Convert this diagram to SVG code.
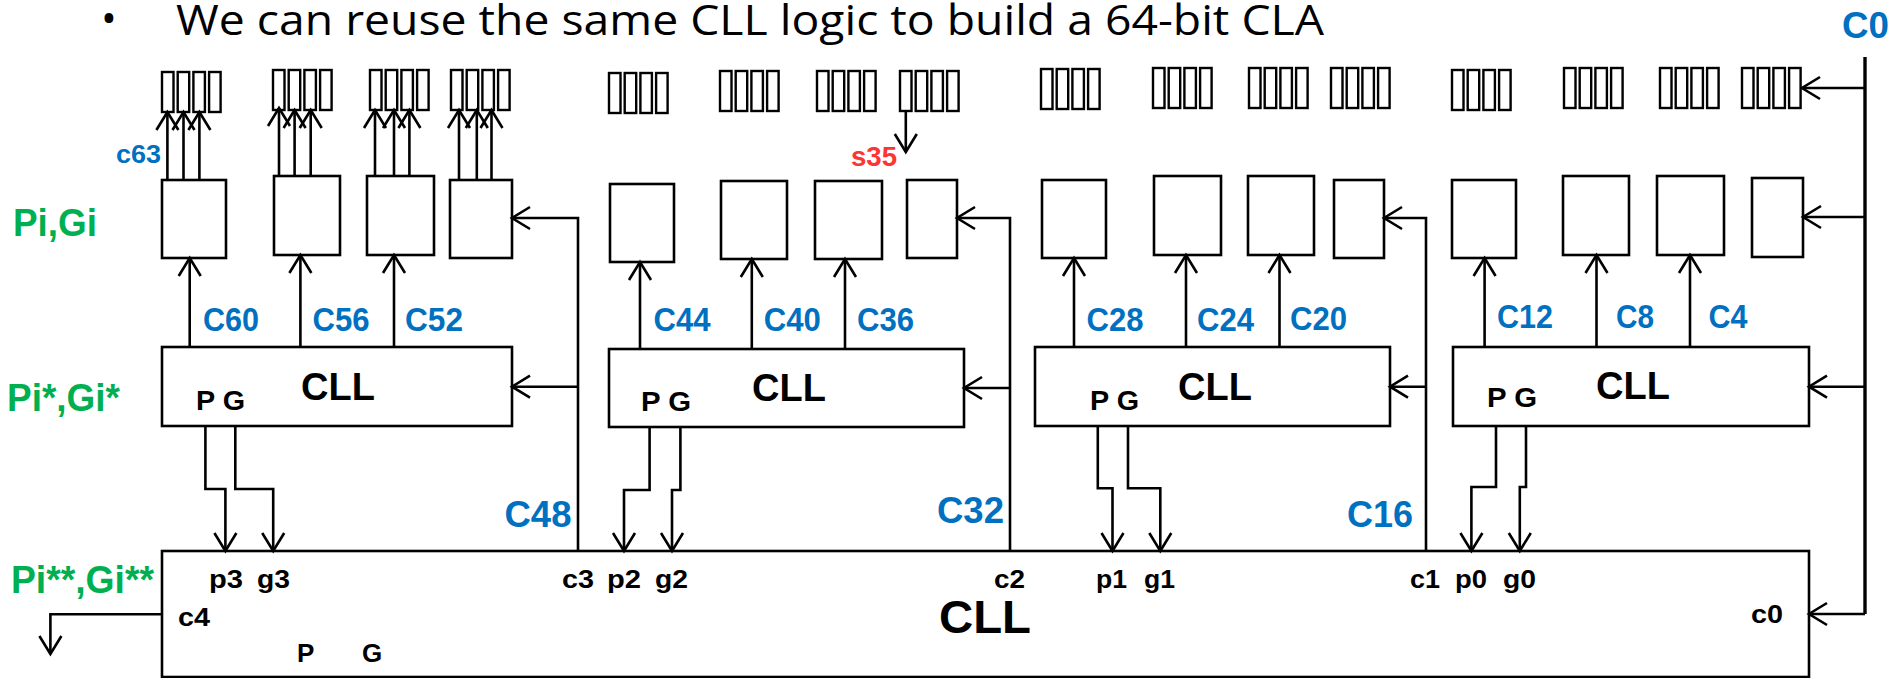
<svg xmlns="http://www.w3.org/2000/svg" width="1893" height="678" viewBox="0 0 1893 678">
  <defs>
    <style>
      .box { fill: #ffffff; stroke: #000000; stroke-width: 2.6; }
      .cell { fill: #ffffff; stroke: #000000; stroke-width: 2.4; }
      .wire { fill: none; stroke: #000000; stroke-width: 2.6; }
      .trunk { fill: none; stroke: #000000; stroke-width: 3.4; }
      .title { font-family: "Open Sans", "Liberation Sans", sans-serif; font-size: 42px; fill: #000000; }
      .lbl { font-family: "Liberation Sans", Arial, sans-serif; font-weight: bold; fill: #000000; }
      .blue { font-family: "Liberation Sans", Arial, sans-serif; font-weight: bold; fill: #0070C0; }
      .green { font-family: "Liberation Sans", Arial, sans-serif; font-weight: bold; font-size: 38px; fill: #00B050; }
      .red { font-family: "Liberation Sans", Arial, sans-serif; font-weight: bold; font-size: 27px; fill: #FF3333; }
      .cin { font-size: 34px; }
      .carry { font-size: 37px; }
      .port { font-size: 26px; }
    </style>
    <marker id="arr" markerUnits="userSpaceOnUse" markerWidth="22" markerHeight="24" refX="18" refY="11" orient="auto" overflow="visible">
      <path d="M0,0 L18,11 L0,22" fill="none" stroke="#000000" stroke-width="2.6"/>
    </marker>
    <!-- four-cell register strip -->
    <g id="strip">
      <rect class="cell" x="0" y="0" width="11.5" height="40"/>
      <rect class="cell" x="15.7" y="0" width="11.5" height="40"/>
      <rect class="cell" x="31.4" y="0" width="11.5" height="40"/>
      <rect class="cell" x="47.1" y="0" width="11.5" height="40"/>
    </g>
  </defs>

  <rect x="0" y="0" width="1893" height="678" fill="#ffffff"/>

  <!-- heading -->
  <text class="title" x="101" y="33" font-size="40" font-family="Liberation Sans, sans-serif">•</text>
  <text class="title" x="176" y="35" textLength="1148" lengthAdjust="spacingAndGlyphs">We can reuse the same CLL logic to build a 64-bit CLA</text>

  <!-- level labels -->
  <text class="green" x="13" y="236" textLength="84" lengthAdjust="spacingAndGlyphs">Pi,Gi</text>
  <text class="green" x="7" y="411" textLength="113" lengthAdjust="spacingAndGlyphs">Pi*,Gi*</text>
  <text class="green" x="11" y="593" textLength="143" lengthAdjust="spacingAndGlyphs">Pi**,Gi**</text>

  <!-- sum/carry bit strips -->
  <g id="strips">
    <use href="#strip" x="162" y="72"/>
    <use href="#strip" x="273" y="70"/>
    <use href="#strip" x="370" y="70"/>
    <use href="#strip" x="451" y="70"/>
    <use href="#strip" x="609" y="73"/>
    <use href="#strip" x="720" y="71"/>
    <use href="#strip" x="817" y="71"/>
    <use href="#strip" x="900" y="71"/>
    <use href="#strip" x="1041" y="69"/>
    <use href="#strip" x="1153" y="68"/>
    <use href="#strip" x="1249" y="68"/>
    <use href="#strip" x="1331" y="68"/>
    <use href="#strip" x="1452" y="70"/>
    <use href="#strip" x="1564" y="68"/>
    <use href="#strip" x="1660" y="68"/>
    <use href="#strip" x="1742" y="68"/>
  </g>

  <!-- first-level Pi,Gi blocks -->
  <g id="pg-blocks">
    <rect class="box" x="162" y="180" width="64" height="78"/>
    <rect class="box" x="274" y="176" width="66" height="79"/>
    <rect class="box" x="367" y="176" width="67" height="79"/>
    <rect class="box" x="450" y="180" width="62" height="78"/>
    <rect class="box" x="610" y="184" width="64" height="78"/>
    <rect class="box" x="721" y="181" width="66" height="78"/>
    <rect class="box" x="815" y="181" width="67" height="78"/>
    <rect class="box" x="907" y="180" width="50" height="78"/>
    <rect class="box" x="1042" y="180" width="64" height="78"/>
    <rect class="box" x="1154" y="176" width="67" height="79"/>
    <rect class="box" x="1248" y="176" width="66" height="79"/>
    <rect class="box" x="1334" y="180" width="50" height="78"/>
    <rect class="box" x="1452" y="180" width="64" height="78"/>
    <rect class="box" x="1563" y="176" width="66" height="79"/>
    <rect class="box" x="1657" y="176" width="67" height="79"/>
    <rect class="box" x="1752" y="178" width="51" height="79"/>
  </g>

  <!-- second-level CLL blocks -->
  <g id="cll-3">
    <rect class="box" x="162" y="347" width="350" height="79"/>
    <text class="lbl" x="301" y="400" font-size="38">CLL</text>
    <text class="lbl" x="196" y="410" font-size="28" textLength="49" lengthAdjust="spacingAndGlyphs">P G</text>
  </g>
  <g id="cll-2">
    <rect class="box" x="609" y="349" width="355" height="78"/>
    <text class="lbl" x="752" y="401" font-size="38">CLL</text>
    <text class="lbl" x="641" y="411" font-size="28" textLength="50" lengthAdjust="spacingAndGlyphs">P G</text>
  </g>
  <g id="cll-1">
    <rect class="box" x="1035" y="347" width="355" height="79"/>
    <text class="lbl" x="1178" y="400" font-size="38">CLL</text>
    <text class="lbl" x="1090" y="410" font-size="28" textLength="49" lengthAdjust="spacingAndGlyphs">P G</text>
  </g>
  <g id="cll-0">
    <rect class="box" x="1453" y="347" width="356" height="79"/>
    <text class="lbl" x="1596" y="399" font-size="38">CLL</text>
    <text class="lbl" x="1487" y="407" font-size="28" textLength="50" lengthAdjust="spacingAndGlyphs">P G</text>
  </g>

  <!-- top-level CLL -->
  <g id="cll-top">
    <rect class="box" x="162" y="551" width="1647" height="126"/>
    <text class="lbl" x="939" y="633" font-size="46" textLength="92" lengthAdjust="spacingAndGlyphs">CLL</text>
    <text class="lbl port" x="209" y="588" textLength="34" lengthAdjust="spacingAndGlyphs">p3</text>
    <text class="lbl port" x="257" y="588" textLength="33" lengthAdjust="spacingAndGlyphs">g3</text>
    <text class="lbl port" x="178" y="626" textLength="32" lengthAdjust="spacingAndGlyphs">c4</text>
    <text class="lbl port" x="297" y="662">P</text>
    <text class="lbl port" x="362" y="662">G</text>
    <text class="lbl port" x="562" y="588" textLength="32" lengthAdjust="spacingAndGlyphs">c3</text>
    <text class="lbl port" x="607" y="588" textLength="34" lengthAdjust="spacingAndGlyphs">p2</text>
    <text class="lbl port" x="655" y="588" textLength="33" lengthAdjust="spacingAndGlyphs">g2</text>
    <text class="lbl port" x="994" y="588" textLength="31" lengthAdjust="spacingAndGlyphs">c2</text>
    <text class="lbl port" x="1096" y="588" textLength="31" lengthAdjust="spacingAndGlyphs">p1</text>
    <text class="lbl port" x="1144" y="588" textLength="31" lengthAdjust="spacingAndGlyphs">g1</text>
    <text class="lbl port" x="1410" y="588" textLength="30" lengthAdjust="spacingAndGlyphs">c1</text>
    <text class="lbl port" x="1455" y="588" textLength="32" lengthAdjust="spacingAndGlyphs">p0</text>
    <text class="lbl port" x="1503" y="588" textLength="33" lengthAdjust="spacingAndGlyphs">g0</text>
    <text class="lbl port" x="1751" y="623" textLength="32" lengthAdjust="spacingAndGlyphs">c0</text>
  </g>

  <!-- connectors -->
  <g id="connectors">
    <!-- Pi,Gi blocks to bit strips -->
    <path class="wire" marker-end="url(#arr)" d="M167.4,180 V112"/>
    <path class="wire" marker-end="url(#arr)" d="M183.5,180 V112"/>
    <path class="wire" marker-end="url(#arr)" d="M199.4,180 V112"/>
    <path class="wire" marker-end="url(#arr)" d="M279,176 V108"/>
    <path class="wire" marker-end="url(#arr)" d="M294.6,176 V110"/>
    <path class="wire" marker-end="url(#arr)" d="M310.7,176 V110"/>
    <path class="wire" marker-end="url(#arr)" d="M375,176 V110"/>
    <path class="wire" marker-end="url(#arr)" d="M394,176 V110"/>
    <path class="wire" marker-end="url(#arr)" d="M409.4,176 V110"/>
    <path class="wire" marker-end="url(#arr)" d="M459,180 V110"/>
    <path class="wire" marker-end="url(#arr)" d="M476.8,180 V110"/>
    <path class="wire" marker-end="url(#arr)" d="M491.5,180 V110"/>

    <!-- s35 output -->
    <path class="wire" marker-end="url(#arr)" d="M905.8,111 V152"/>

    <!-- CLL carries up to Pi,Gi blocks -->
    <path class="wire" marker-end="url(#arr)" d="M189.7,347 V258"/>
    <path class="wire" marker-end="url(#arr)" d="M300.4,347 V255"/>
    <path class="wire" marker-end="url(#arr)" d="M394,347 V255"/>
    <path class="wire" marker-end="url(#arr)" d="M640,349 V262"/>
    <path class="wire" marker-end="url(#arr)" d="M751.8,349 V259"/>
    <path class="wire" marker-end="url(#arr)" d="M845,349 V259"/>
    <path class="wire" marker-end="url(#arr)" d="M1074,347 V258"/>
    <path class="wire" marker-end="url(#arr)" d="M1186,347 V255"/>
    <path class="wire" marker-end="url(#arr)" d="M1279.5,347 V255"/>
    <path class="wire" marker-end="url(#arr)" d="M1484.6,347 V258"/>
    <path class="wire" marker-end="url(#arr)" d="M1596.5,347 V255"/>
    <path class="wire" marker-end="url(#arr)" d="M1690,347 V255"/>

    <!-- group carries from top-level CLL -->
    <path class="wire" marker-end="url(#arr)" d="M578,551 V218 H512"/>
    <path class="wire" marker-end="url(#arr)" d="M578,386.7 H512"/>
    <path class="wire" marker-end="url(#arr)" d="M1010,551 V218 H957"/>
    <path class="wire" marker-end="url(#arr)" d="M1010,388 H964"/>
    <path class="wire" marker-end="url(#arr)" d="M1426,551 V218 H1384"/>
    <path class="wire" marker-end="url(#arr)" d="M1426,386.7 H1390"/>

    <!-- C0 input bus -->
    <path class="trunk" d="M1865,57 V614"/>
    <path class="wire" marker-end="url(#arr)" d="M1865,614 H1809"/>
    <path class="wire" marker-end="url(#arr)" d="M1865,88 H1802"/>
    <path class="wire" marker-end="url(#arr)" d="M1865,217 H1803"/>
    <path class="wire" marker-end="url(#arr)" d="M1865,386.7 H1809"/>

    <!-- group P,G into top-level CLL -->
    <path class="wire" marker-end="url(#arr)" d="M205.4,426 V489 H225.4 V551"/>
    <path class="wire" marker-end="url(#arr)" d="M235.3,426 V489 H273.2 V551"/>
    <path class="wire" marker-end="url(#arr)" d="M649.6,427 V490 H624 V551"/>
    <path class="wire" marker-end="url(#arr)" d="M680.4,427 V490 H672 V551"/>
    <path class="wire" marker-end="url(#arr)" d="M1097.8,426 V488.3 H1112.5 V551"/>
    <path class="wire" marker-end="url(#arr)" d="M1128,426 V488.3 H1160.3 V551"/>
    <path class="wire" marker-end="url(#arr)" d="M1496,426 V487 H1471.4 V551"/>
    <path class="wire" marker-end="url(#arr)" d="M1526,426 V487 H1519.8 V551"/>

    <!-- c4 carry out -->
    <path class="wire" marker-end="url(#arr)" d="M162,614.3 H50.4 V654"/>
  </g>

  <!-- signal names -->
  <g id="signal-labels">
    <text class="blue" x="1842" y="38" font-size="37" textLength="47" lengthAdjust="spacingAndGlyphs">C0</text>
    <text class="blue" x="116" y="163" font-size="25" textLength="45" lengthAdjust="spacingAndGlyphs">c63</text>
    <text class="red" x="851" y="166" textLength="46" lengthAdjust="spacingAndGlyphs">s35</text>

    <text class="blue cin" x="203" y="331" textLength="56" lengthAdjust="spacingAndGlyphs">C60</text>
    <text class="blue cin" x="312.5" y="331" textLength="57" lengthAdjust="spacingAndGlyphs">C56</text>
    <text class="blue cin" x="405" y="331" textLength="58" lengthAdjust="spacingAndGlyphs">C52</text>
    <text class="blue cin" x="653.6" y="331" textLength="57" lengthAdjust="spacingAndGlyphs">C44</text>
    <text class="blue cin" x="763.8" y="331" textLength="57" lengthAdjust="spacingAndGlyphs">C40</text>
    <text class="blue cin" x="857" y="331" textLength="57" lengthAdjust="spacingAndGlyphs">C36</text>
    <text class="blue cin" x="1086.6" y="331" textLength="57" lengthAdjust="spacingAndGlyphs">C28</text>
    <text class="blue cin" x="1197" y="331" textLength="57" lengthAdjust="spacingAndGlyphs">C24</text>
    <text class="blue cin" x="1290" y="330" textLength="57" lengthAdjust="spacingAndGlyphs">C20</text>
    <text class="blue cin" x="1497" y="328" textLength="56" lengthAdjust="spacingAndGlyphs">C12</text>
    <text class="blue cin" x="1616" y="328" textLength="38" lengthAdjust="spacingAndGlyphs">C8</text>
    <text class="blue cin" x="1708.5" y="328" textLength="39" lengthAdjust="spacingAndGlyphs">C4</text>

    <text class="blue carry" x="504.5" y="526.7" textLength="67" lengthAdjust="spacingAndGlyphs">C48</text>
    <text class="blue carry" x="937" y="523" textLength="67" lengthAdjust="spacingAndGlyphs">C32</text>
    <text class="blue carry" x="1347" y="526.7" textLength="66" lengthAdjust="spacingAndGlyphs">C16</text>
  </g>
</svg>
